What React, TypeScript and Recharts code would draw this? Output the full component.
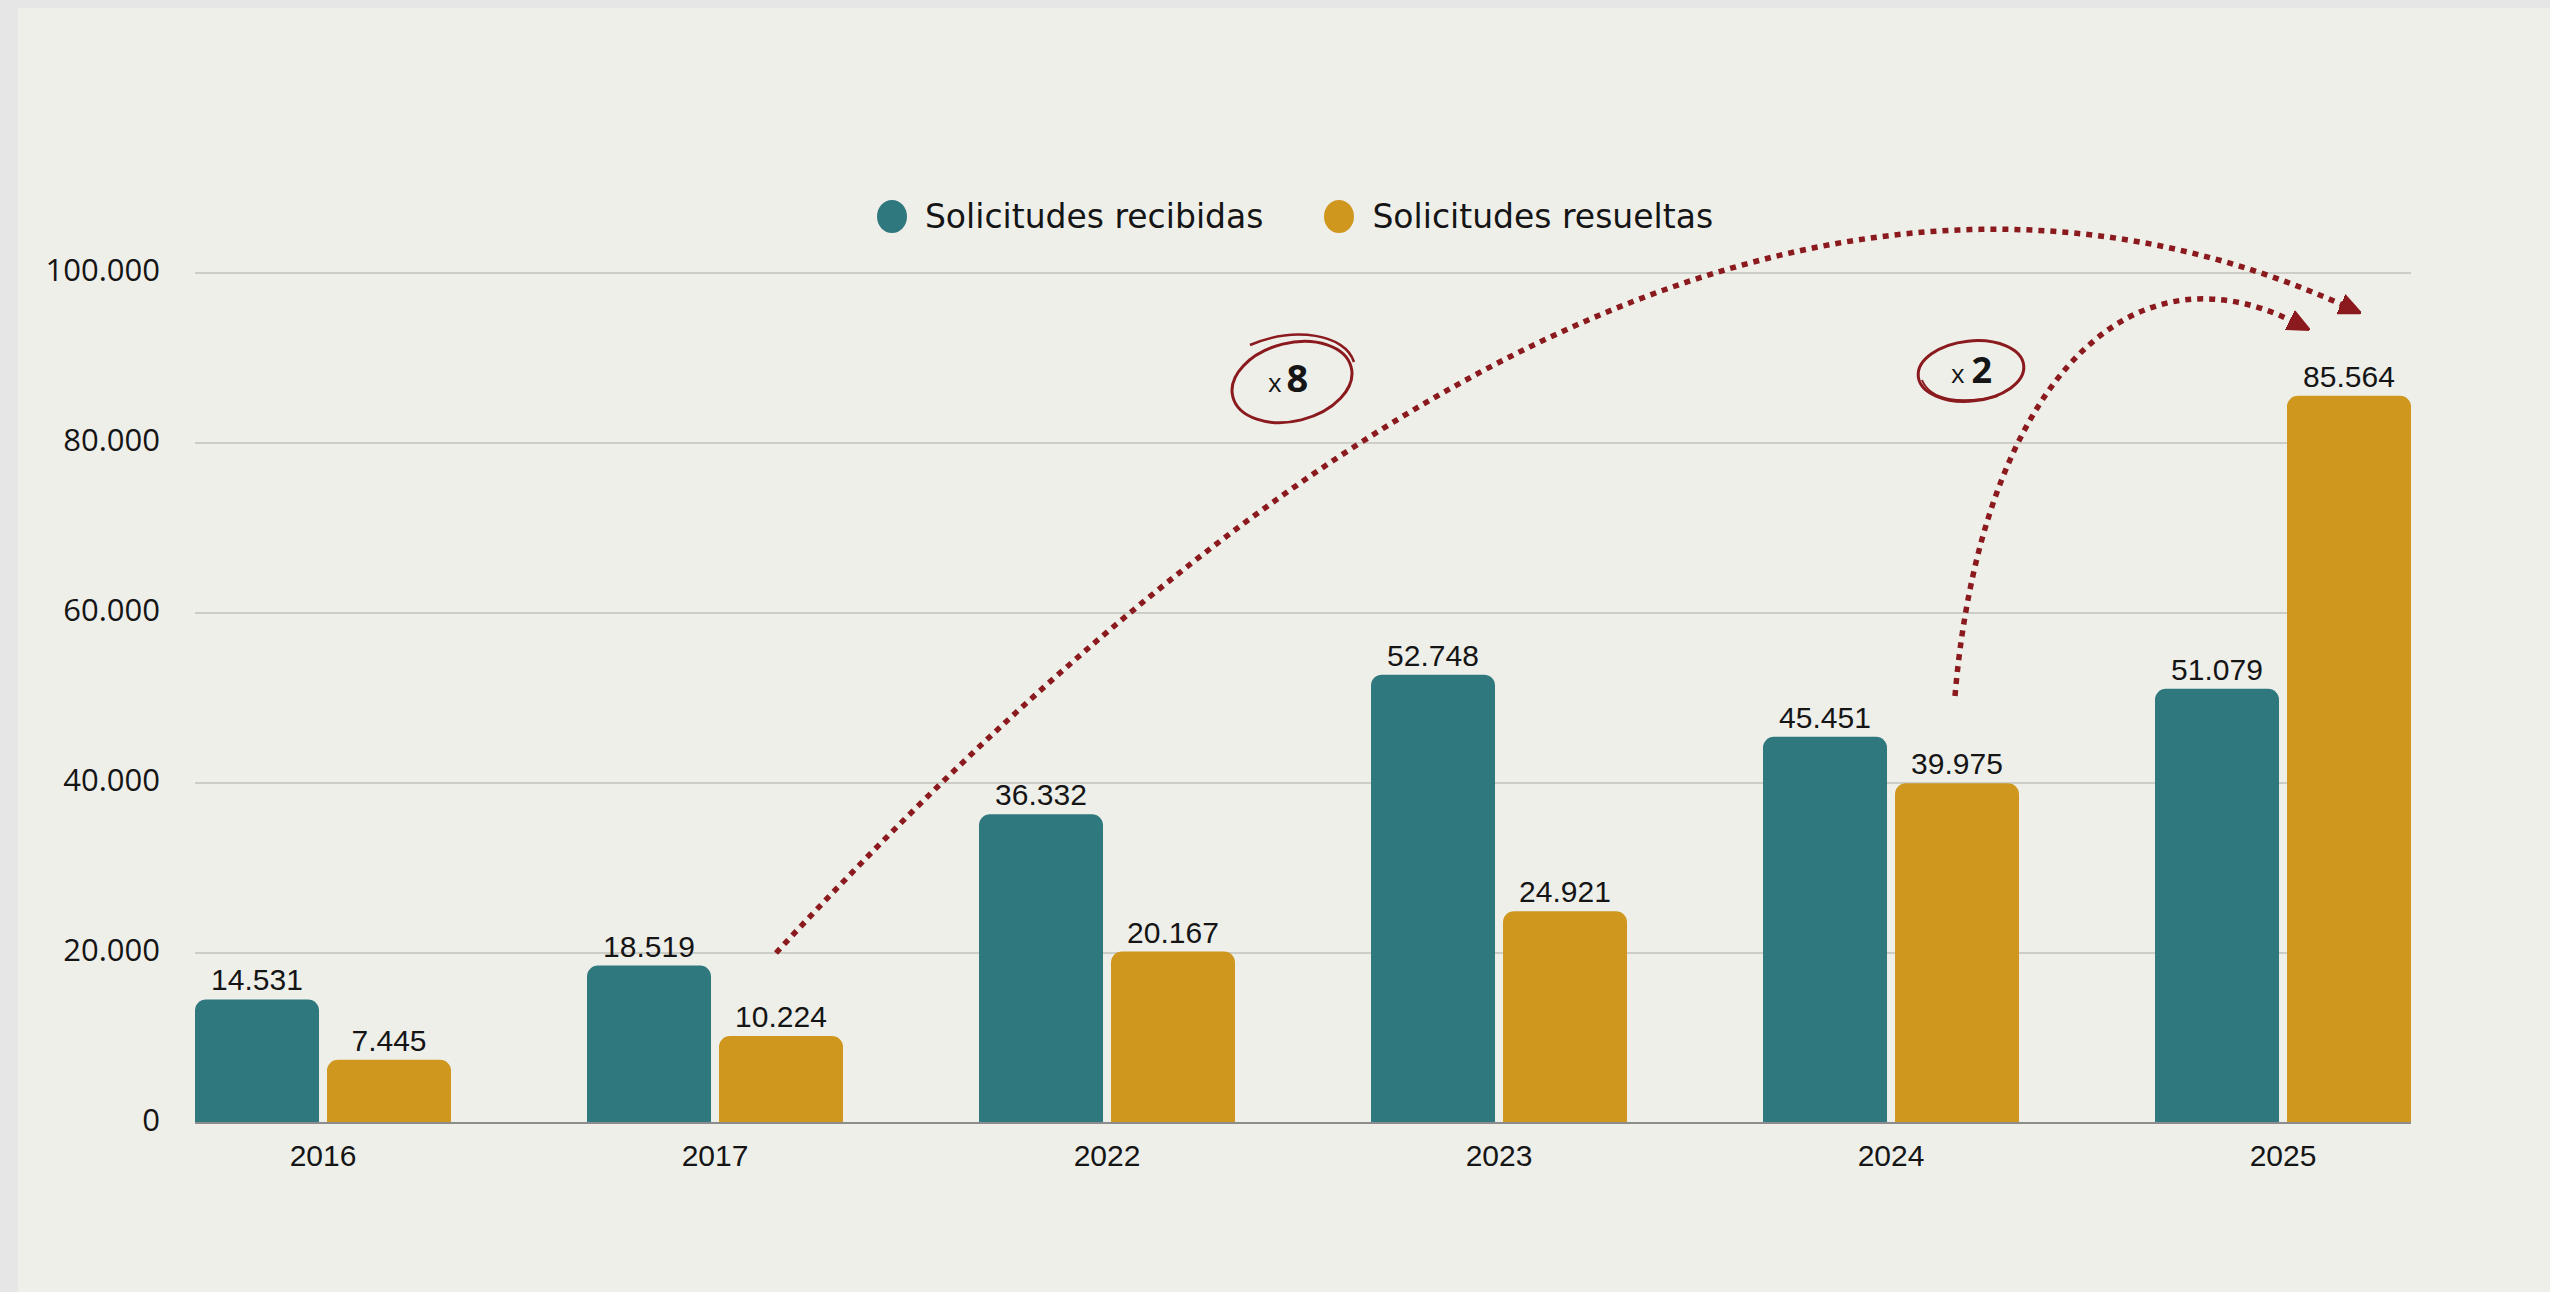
import React from 'react';
import { BarChart, Bar, XAxis, YAxis, CartesianGrid, LabelList, Legend, ReferenceLine } from 'recharts';

const years = ['2016', '2017', '2022', '2023', '2024', '2025'];
const recibidas = [14531, 18519, 36332, 52748, 45451, 51079];
const resueltas = [7445, 10224, 20167, 24921, 39975, 85564];
const yTicks = [0, 20000, 40000, 60000, 80000, 100000];
const seriesNames = ['Solicitudes recibidas', 'Solicitudes resueltas'];

const TEAL = '#2e787e';
const GOLD = '#cf971e';
const RED = '#8a1a1e';
const TEXT = '#151515';
const LABEL_FONT = '"Liberation Sans", Arial, sans-serif';
const UI_FONT = '"Open Sans", "Noto Sans", sans-serif';
const LEGEND_FONT = '"DejaVu Sans", "Open Sans", sans-serif';

const fmt = (v: number) => String(v).replace(/\B(?=(\d{3})+(?!\d))/g, '.');

const data = years.map((y, i) => ({ year: y, recibidas: recibidas[i], resueltas: resueltas[i] }));

const W = 2550;
const H = 1292;
const GRID_INSET = 68;

const YTick = (p: any) => (
  <text
    x={p.x + 41}
    y={p.y - 4}
    textAnchor="end"
    dominantBaseline="central"
    fontFamily={UI_FONT}
    fontSize={31}
    fill={TEXT}
  >
    {fmt(p.payload.value)}
  </text>
);

const gridLine = (p: any) => (
  <line
    key={p.key}
    x1={p.x1 + GRID_INSET}
    x2={p.x2 - GRID_INSET}
    y1={p.y1}
    y2={p.y2}
    stroke="#c2c2bd"
    strokeWidth={1.5}
  />
);

const baseLine = (p: any) => (
  <line x1={p.x1 + GRID_INSET} x2={p.x2 - GRID_INSET} y1={p.y1} y2={p.y2} stroke="#8c8c8c" strokeWidth={2} />
);

const renderLegend = () => (
  <div
    style={{
      display: 'flex',
      justifyContent: 'center',
      alignItems: 'center',
      width: W,
      paddingLeft: 40,
      boxSizing: 'border-box',
      fontFamily: LEGEND_FONT,
      fontSize: 33,
      color: TEXT,
    }}
  >
    {[TEAL, GOLD].map((c, i) => (
      <div key={i} style={{ display: 'flex', alignItems: 'center', marginRight: i === 0 ? 61 : 0 }}>
        <span
          style={{
            display: 'inline-block',
            width: 30,
            height: 33,
            borderRadius: '50%',
            background: c,
            marginRight: 18,
          }}
        />
        <span>{seriesNames[i]}</span>
      </div>
    ))}
  </div>
);

const Annotations = () => (
  <svg
    width={W}
    height={H}
    style={{ position: 'absolute', left: 0, top: 0, pointerEvents: 'none' }}
  >
    <defs>
      <marker
        id="ah"
        viewBox="0 0 10 10"
        refX="2"
        refY="5"
        markerUnits="userSpaceOnUse"
        markerWidth={22}
        markerHeight={22}
        orient="auto"
      >
        <path d="M0,0.5 L10,5 L0,9.5 z" fill={RED} stroke={RED} strokeWidth={1} strokeLinejoin="round" />
      </marker>
    </defs>
    <path
      d="M776,953 C1250,440 1800,60 2345,306"
      fill="none"
      stroke={RED}
      strokeWidth={5.5}
      strokeDasharray="6 6"
      markerEnd="url(#ah)"
    />
    <path
      d="M1955,696 C1980,400 2120,235 2294,322"
      fill="none"
      stroke={RED}
      strokeWidth={5.5}
      strokeDasharray="6 6"
      markerEnd="url(#ah)"
    />
    <g>
      <ellipse cx={1292} cy={382} rx={61} ry={39} transform="rotate(-14 1292 382)" fill="none" stroke={RED} strokeWidth={3} />
      <path d="M1250,345 C1295,326 1345,334 1354,362" fill="none" stroke={RED} strokeWidth={2.5} />
      <text x={1268} y={392} fontFamily={UI_FONT} fill={TEXT}>
        <tspan fontSize={26}>x</tspan>
        <tspan dx={5} fontSize={38} fontWeight={700}>8</tspan>
      </text>
    </g>
    <g>
      <ellipse cx={1971} cy={371} rx={53} ry={30} transform="rotate(-6 1971 371)" fill="none" stroke={RED} strokeWidth={3} />
      <path d="M1922,380 C1930,400 1960,405 1998,396" fill="none" stroke={RED} strokeWidth={2} />
      <text x={1951} y={383} fontFamily={UI_FONT} fill={TEXT}>
        <tspan fontSize={26}>x</tspan>
        <tspan dx={7} fontSize={36} fontWeight={700}>2</tspan>
      </text>
    </g>
  </svg>
);

export default function App() {
  return (
    <div
      style={{
        position: 'absolute',
        left: 0,
        top: 0,
        width: W,
        height: H,
        background: '#e6e6e6',
        overflow: 'hidden',
      }}
    >
      <div style={{ position: 'absolute', left: 18, top: 8, right: 0, bottom: 0, background: '#efefea' }} />
      <div style={{ position: 'absolute', left: 0, top: 0 }}>
        <BarChart
          width={W}
          height={H}
          data={data}
          margin={{ top: 273, right: 71, bottom: 109, left: 27 }}
          barSize={124}
          barGap={8}
        >
          <CartesianGrid vertical={false} horizontal={gridLine} />
          <XAxis
            dataKey="year"
            height={60}
            axisLine={false}
            tickLine={false}
            tickMargin={16}
            tick={{ fontFamily: LABEL_FONT, fontSize: 30, fill: TEXT }}
          />
          <YAxis
            width={100}
            domain={[0, 100000]}
            ticks={yTicks}
            axisLine={false}
            tickLine={false}
            tick={YTick}
          />
          <Legend verticalAlign="middle" layout="horizontal" content={renderLegend} wrapperStyle={{ top: 197, left: 0, width: W }} />
          <ReferenceLine y={0} shape={baseLine} />
          <Bar dataKey="recibidas" name={seriesNames[0]} fill={TEAL} radius={[11, 11, 0, 0]} isAnimationActive={false}>
            <LabelList
              dataKey="recibidas"
              position="top"
              offset={9}
              formatter={(v: any) => fmt(Number(v))}
              style={{ fontFamily: LABEL_FONT, fontSize: 30, fill: TEXT }}
            />
          </Bar>
          <Bar dataKey="resueltas" name={seriesNames[1]} fill={GOLD} radius={[11, 11, 0, 0]} isAnimationActive={false}>
            <LabelList
              dataKey="resueltas"
              position="top"
              offset={9}
              formatter={(v: any) => fmt(Number(v))}
              style={{ fontFamily: LABEL_FONT, fontSize: 30, fill: TEXT }}
            />
          </Bar>
        </BarChart>
      </div>
      <Annotations />
    </div>
  );
}
